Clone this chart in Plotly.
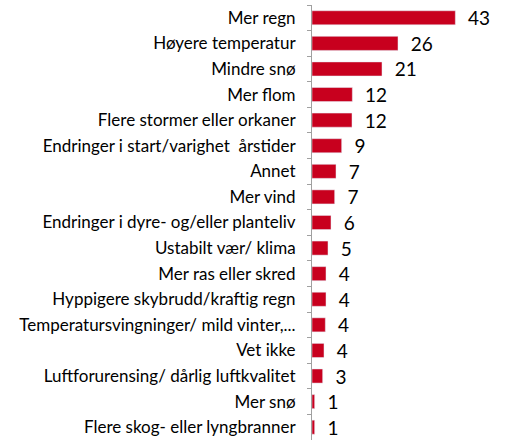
import plotly.graph_objects as go

categories = [
    "Mer regn",
    "Høyere temperatur",
    "Mindre snø",
    "Mer flom",
    "Flere stormer eller orkaner",
    "Endringer i start/varighet  årstider",
    "Annet",
    "Mer vind",
    "Endringer i dyre- og/eller planteliv",
    "Ustabilt vær/ klima",
    "Mer ras eller skred",
    "Hyppigere skybrudd/kraftig regn",
    "Temperatursvingninger/ mild vinter,...",
    "Vet ikke",
    "Luftforurensing/ dårlig luftkvalitet",
    "Mer snø",
    "Flere skog- eller lyngbranner",
]
values = [43, 25.8, 21, 12.1, 12, 8.9, 7.2, 6.8, 5.7, 4.8, 4.2, 4.2, 4.0, 3.6, 3.2, 0.8, 0.8]
labels = ["43", "26", "21", "12", "12", "9", "7", "7", "6", "5", "4", "4", "4", "4", "3", "1", "1"]

fig = go.Figure(
    go.Bar(
        x=values,
        y=categories,
        orientation="h",
        marker=dict(color="#C8001E"),
        text=["  " + t for t in labels],
        textposition="outside",
        constraintext="none",
        textfont=dict(family="Lato", size=19, color="#000000"),
        cliponaxis=False,
        width=0.55,
        hoverinfo="skip",
    )
)

fig.update_layout(
    width=508,
    height=441,
    margin=dict(l=312, r=8, t=5, b=1),
    paper_bgcolor="white",
    plot_bgcolor="white",
    showlegend=False,
    hovermode=False,
    font=dict(family="Lato", size=17, color="#000000"),
)
fig.update_xaxes(range=[0, 56.4], visible=False, fixedrange=True)
fig.update_yaxes(
    autorange="reversed",
    showline=True,
    linecolor="#A0A0A0",
    linewidth=1,
    ticks="outside",
    tickson="boundaries",
    ticklen=4,
    tickcolor="#A0A0A0",
    ticklabelstandoff=12,
    showgrid=False,
    automargin=False,
    fixedrange=True,
    tickfont=dict(family="Lato", size=17, color="#000000"),
)

fig.write_html(
    "out.html",
    config={"displayModeBar": False, "staticPlot": True},
    post_script="document.body.style.margin='0';",
)
